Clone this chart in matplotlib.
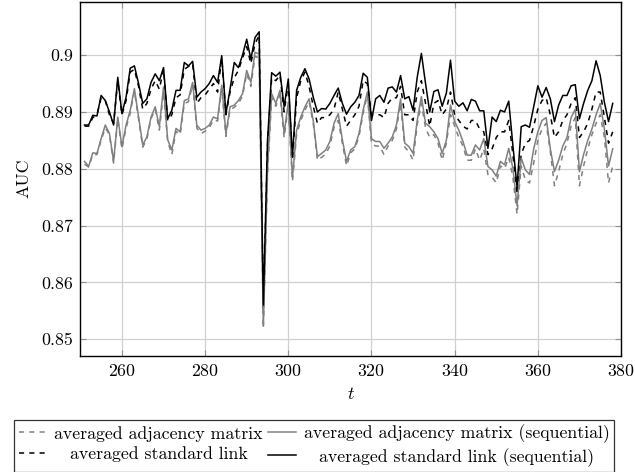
import numpy as np
import matplotlib
matplotlib.use('Agg')
import matplotlib.pyplot as plt
from matplotlib.ticker import FuncFormatter

# ------------------------------------------------------------
# datos (t = 251 ... 378)
# ------------------------------------------------------------
t = np.arange(251, 379)

# averaged adjacency matrix (gris, discontinua)
adj = [0.8808, 0.8803, 0.8825, 0.8825, 0.8850, 0.8872, 0.8860, 0.8810, 0.8888, 0.8835,
       0.8872, 0.8898, 0.8937, 0.8888, 0.8838, 0.8852, 0.8888, 0.8905, 0.8868, 0.8935,
       0.8848, 0.8825, 0.8866, 0.8860, 0.8915, 0.8918, 0.8948, 0.8872, 0.8862, 0.8866,
       0.8872, 0.8886, 0.8884, 0.8942, 0.8857, 0.8904, 0.8908, 0.8915, 0.8928, 0.8968,
       0.8945, 0.8998, 0.8995, 0.8520, 0.8790, 0.8925, 0.8910, 0.8930, 0.8855, 0.8910,
       0.8778, 0.8860, 0.8885, 0.8903, 0.8918, 0.8880, 0.8815, 0.8820, 0.8826, 0.8840,
       0.8873, 0.8885, 0.8845, 0.8805, 0.8828, 0.8835, 0.8857, 0.8898, 0.8930, 0.8845,
       0.8840, 0.8840, 0.8825, 0.8840, 0.8850, 0.8870, 0.8915, 0.8838, 0.8830, 0.8815,
       0.8878, 0.8915, 0.8872, 0.8855, 0.8860, 0.8845, 0.8815, 0.8845, 0.8895, 0.8875,
       0.8855, 0.8840, 0.8815, 0.8815, 0.8835, 0.8815, 0.8835, 0.8790, 0.8785, 0.8775,
       0.8805, 0.8800, 0.8820, 0.8785, 0.8720, 0.8805, 0.8780, 0.8775, 0.8810, 0.8850,
       0.8870, 0.8880, 0.8830, 0.8770, 0.8795, 0.8825, 0.8845, 0.8875, 0.8890, 0.8770,
       0.8805, 0.8835, 0.8860, 0.8880, 0.8895, 0.8855, 0.8775, 0.8805]

# averaged adjacency matrix (sequential) (gris, continua)
adj_seq = [0.8813, 0.8804, 0.8828, 0.8827, 0.8853, 0.8877, 0.8862, 0.8813, 0.8891, 0.8839,
           0.8877, 0.8903, 0.8941, 0.8891, 0.8842, 0.8856, 0.8891, 0.8909, 0.8874, 0.8944,
           0.8851, 0.8833, 0.8871, 0.8865, 0.8920, 0.8923, 0.8952, 0.8877, 0.8868, 0.8871,
           0.8877, 0.8891, 0.8888, 0.8947, 0.8862, 0.8909, 0.8912, 0.8920, 0.8932, 0.8973,
           0.8952, 0.9005, 0.9002, 0.8523, 0.8800, 0.8932, 0.8915, 0.8938, 0.8862, 0.8917,
           0.8784, 0.8868, 0.8891, 0.8909, 0.8923, 0.8885, 0.8821, 0.8827, 0.8833, 0.8848,
           0.8880, 0.8897, 0.8851, 0.8813, 0.8833, 0.8839, 0.8862, 0.8903, 0.8935, 0.8853,
           0.8848, 0.8848, 0.8836, 0.8845, 0.8856, 0.8877, 0.8923, 0.8845, 0.8839, 0.8827,
           0.8885, 0.8927, 0.8880, 0.8874, 0.8865, 0.8853, 0.8827, 0.8850, 0.8912, 0.8883,
           0.8868, 0.8848, 0.8824, 0.8824, 0.8842, 0.8833, 0.8853, 0.8804, 0.8798, 0.8787,
           0.8813, 0.8807, 0.8836, 0.8801, 0.8735, 0.8819, 0.8798, 0.8790, 0.8835, 0.8865,
           0.8885, 0.8890, 0.8835, 0.8795, 0.8815, 0.8840, 0.8855, 0.8890, 0.8905, 0.8795,
           0.8825, 0.8850, 0.8870, 0.8895, 0.8915, 0.8870, 0.8805, 0.8835]

# averaged standard link (negro, discontinua)
std = [0.8875, 0.8875, 0.8890, 0.8895, 0.8925, 0.8920, 0.8895, 0.8880, 0.8955, 0.8895,
       0.8920, 0.8970, 0.8975, 0.8945, 0.8905, 0.8915, 0.8940, 0.8955, 0.8940, 0.8975,
       0.8885, 0.8895, 0.8925, 0.8930, 0.8975, 0.8980, 0.8985, 0.8915, 0.8925, 0.8930,
       0.8940, 0.8950, 0.8935, 0.8995, 0.8895, 0.8935, 0.8960, 0.8973, 0.8995, 0.9015,
       0.8985, 0.9020, 0.9035, 0.8555, 0.8840, 0.8960, 0.8955, 0.8965, 0.8900, 0.8950,
       0.8815, 0.8925, 0.8955, 0.8970, 0.8945, 0.8910, 0.8880, 0.8890, 0.8890, 0.8895,
       0.8905, 0.8935, 0.8905, 0.8875, 0.8885, 0.8895, 0.8910, 0.8955, 0.8950, 0.8895,
       0.8895, 0.8895, 0.8890, 0.8915, 0.8925, 0.8925, 0.8945, 0.8895, 0.8895, 0.8885,
       0.8935, 0.8955, 0.8915, 0.8875, 0.8915, 0.8920, 0.8895, 0.8905, 0.8935, 0.8895,
       0.8885, 0.8875, 0.8870, 0.8885, 0.8885, 0.8870, 0.8865, 0.8825, 0.8835, 0.8855,
       0.8865, 0.8865, 0.8885, 0.8825, 0.8755, 0.8825, 0.8845, 0.8850, 0.8875, 0.8905,
       0.8920, 0.8925, 0.8895, 0.8855, 0.8865, 0.8885, 0.8895, 0.8915, 0.8925, 0.8855,
       0.8865, 0.8880, 0.8905, 0.8935, 0.8935, 0.8890, 0.8845, 0.8865]

# averaged standard link (sequential) (negro, continua)
std_seq = [0.8877, 0.8877, 0.8894, 0.8893, 0.8929, 0.8920, 0.8900, 0.8877, 0.8961, 0.8897,
           0.8926, 0.8977, 0.8981, 0.8950, 0.8915, 0.8923, 0.8952, 0.8967, 0.8955, 0.8978,
           0.8888, 0.8903, 0.8938, 0.8938, 0.8987, 0.8981, 0.8989, 0.8926, 0.8935, 0.8941,
           0.8950, 0.8964, 0.8952, 0.8999, 0.8897, 0.8940, 0.8987, 0.8978, 0.9000, 0.9028,
           0.8993, 0.9031, 0.9041, 0.8560, 0.8850, 0.8969, 0.8963, 0.8970, 0.8909, 0.8958,
           0.8821, 0.8938, 0.8961, 0.8976, 0.8958, 0.8926, 0.8900, 0.8906, 0.8905, 0.8915,
           0.8929, 0.8942, 0.8915, 0.8896, 0.8909, 0.8917, 0.8929, 0.8968, 0.8961, 0.8885,
           0.8923, 0.8929, 0.8917, 0.8942, 0.8944, 0.8935, 0.8964, 0.8923, 0.8927, 0.8903,
           0.8961, 0.9003, 0.8950, 0.8900, 0.8936, 0.8939, 0.8910, 0.8933, 0.8991, 0.8919,
           0.8910, 0.8916, 0.8902, 0.8922, 0.8919, 0.8902, 0.8902, 0.8836, 0.8891, 0.8883,
           0.8903, 0.8900, 0.8919, 0.8841, 0.8768, 0.8874, 0.8877, 0.8873, 0.8909, 0.8946,
           0.8926, 0.8943, 0.8923, 0.8883, 0.8912, 0.8929, 0.8929, 0.8946, 0.8948, 0.8888,
           0.8915, 0.8938, 0.8955, 0.8990, 0.8964, 0.8917, 0.8883, 0.8915]

# ------------------------------------------------------------
# estilo tipo pgfplots
# ------------------------------------------------------------
plt.rcParams['font.family'] = 'serif'
plt.rcParams['font.serif'] = ['cmr10']
plt.rcParams['mathtext.fontset'] = 'cm'
plt.rcParams['axes.formatter.use_mathtext'] = True
plt.rcParams['font.size'] = 12.8
plt.rcParams['lines.scale_dashes'] = False

gris = '#808080'
dash = (0, (3.7, 3.7))

fig = plt.figure(figsize=(6.35, 4.72), dpi=100)
ax = fig.add_axes([0.1265, 0.2464, 0.978 - 0.1265, 0.9964 - 0.2464])

ax.plot(t, adj, color=gris, linestyle=dash, lw=1.1, label='averaged adjacency matrix')
ax.plot(t, std, color='black', linestyle=dash, lw=1.1, label='averaged standard link')
ax.plot(t, adj_seq, color=gris, linestyle='-', lw=1.1, label='averaged adjacency matrix (sequential)')
ax.plot(t, std_seq, color='black', linestyle='-', lw=1.1, label='averaged standard link (sequential)')

ax.set_xlim(250, 380)
ax.set_ylim(0.8471, 0.9094)
ax.set_xticks(np.arange(260, 381, 20))
ax.set_yticks([0.85, 0.86, 0.87, 0.88, 0.89, 0.9])
ax.yaxis.set_major_formatter(FuncFormatter(lambda v, _: f'{v:g}'))
ax.grid(True, color='#d0d0d0', lw=0.9)
ax.set_axisbelow(True)
ax.tick_params(direction='in', length=4, color='#909090', top=True, right=True, pad=5)
for s in ax.spines.values():
    s.set_linewidth(1.0)

ax.set_xlabel('$t$', labelpad=5)
ax.set_ylabel('AUC', labelpad=7)

leg = fig.legend(loc='lower center', bbox_to_anchor=(0.4945, 0.001), ncol=2,
                 frameon=True, fancybox=False, edgecolor='black', handlelength=1.55,
                 handletextpad=0.45, columnspacing=0.3, borderpad=0.28, labelspacing=0.25,
                 borderaxespad=0.0)
leg.get_frame().set_linewidth(0.9)

# centrar el texto de cada columna como en pgfplots (el simbolo queda a la izquierda)
fig.canvas.draw()
r = fig.canvas.get_renderer()
px_pt = fig.dpi / 72.0
for col in leg._legend_handle_box.get_children():
    items = col.get_children()
    anchos = [it.get_children()[1].get_window_extent(r).width for it in items]
    for it, w in zip(items, anchos):
        it.sep = it.sep + (max(anchos) - w) / 2 / px_pt

fig.savefig('out.png', dpi=100)
